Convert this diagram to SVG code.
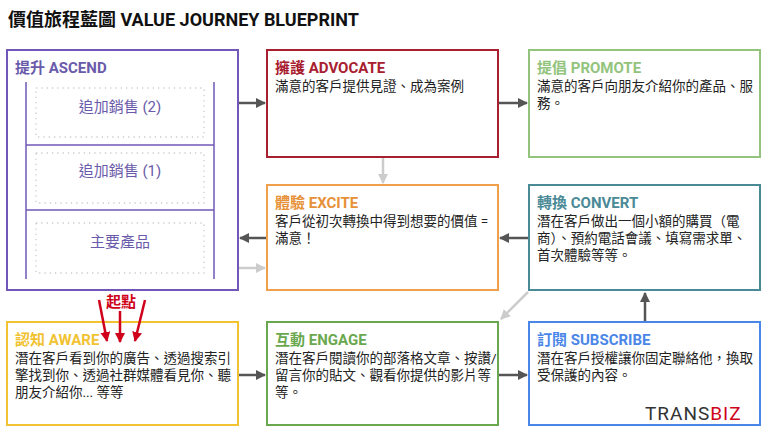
<svg xmlns="http://www.w3.org/2000/svg" width="768" height="433" viewBox="0 0 768 433">
<defs>
<marker id="ah" viewBox="0 0 10 10" refX="9" refY="5" markerWidth="4" markerHeight="4" orient="auto"><path d="M0,0L10,5L0,10z" fill="#555"/></marker>
<marker id="al" viewBox="0 0 10 10" refX="9" refY="5" markerWidth="4" markerHeight="4" orient="auto"><path d="M0,0L10,5L0,10z" fill="#ccc"/></marker>
<marker id="ar" viewBox="0 0 10 10" refX="9" refY="5" markerWidth="4" markerHeight="4" orient="auto"><path d="M0,0L10,5L0,10z" fill="#d0021b"/></marker>
</defs>
<style>
text{font-family:Roboto,"Noto Sans CJK TC",sans-serif}
.box{fill:#fff;stroke-width:2}
.h{font-size:15px;font-weight:bold}
.b{font-size:13.5px;fill:#222}
.c{stroke:#555;stroke-width:2.5;fill:none;marker-end:url(#ah)}
.l{stroke:#ccc;stroke-width:2.5;fill:none;marker-end:url(#al)}
.r{stroke:#d0021b;stroke-width:2.5;fill:none;marker-end:url(#ar)}
.dot{fill:none;stroke:#ccc;stroke-width:1.3;stroke-dasharray:1.3 4}
.sub{font-size:15px;fill:#6a5aaa;text-anchor:middle}
</style>
<rect width="768" height="433" fill="#fff"/>
<text x="8" y="26" font-size="18" font-weight="bold" fill="#111">價值旅程藍圖 VALUE JOURNEY BLUEPRINT</text>
<g id="ascend">
<rect class="box" x="7" y="50" width="231" height="240" stroke="#7158b8"/>
<text class="h" x="15" y="73" fill="#6a5aaa">提升 ASCEND</text>
<path d="M26,82V279M214,82V279M26,145H214M26,210H214" stroke="#7158b8" stroke-width="1.5"/>
<rect class="dot" x="36" y="88" width="168" height="49"/>
<rect class="dot" x="36" y="153" width="168" height="50"/>
<rect class="dot" x="36" y="223" width="168" height="50"/>
<text class="sub" x="120" y="112">追加銷售 (2)</text>
<text class="sub" x="120" y="176">追加銷售 (1)</text>
<text class="sub" x="120" y="247">主要產品</text>
</g>
<g id="advocate">
<rect class="box" x="267" y="50" width="231" height="107" stroke="#a8202f"/>
<text class="h" x="275" y="73" fill="#a8202f">擁護 ADVOCATE</text>
<text class="b" x="275" y="91">滿意的客戶提供見證、成為案例</text>
</g>
<g id="promote">
<rect class="box" x="529" y="50" width="231" height="107" stroke="#93c47d"/>
<text class="h" x="537" y="73" fill="#93c47d">提倡 PROMOTE</text>
<text class="b" x="537" y="91">滿意的客戶向朋友介紹你的產品、服</text>
<text class="b" x="537" y="108">務。</text>
</g>
<g id="excite">
<rect class="box" x="267" y="185" width="231" height="105" stroke="#f0a04b"/>
<text class="h" x="275" y="208" fill="#e69138">體驗 EXCITE</text>
<text class="b" x="275" y="226">客戶從初次轉換中得到想要的價值 =</text>
<text class="b" x="275" y="243">滿意！</text>
</g>
<g id="convert">
<rect class="box" x="529" y="185" width="231" height="105" stroke="#4a8a96"/>
<text class="h" x="537" y="208" fill="#4a8a96">轉換 CONVERT</text>
<text class="b" x="537" y="226">潛在客戶做出一個小額的購買（電</text>
<text class="b" x="537" y="243">商）、預約電話會議、填寫需求單、</text>
<text class="b" x="537" y="260">首次體驗等等。</text>
</g>
<g id="aware">
<rect class="box" x="7" y="322" width="231" height="103" stroke="#f1c232"/>
<text class="h" x="15" y="345" fill="#f1c232">認知 AWARE</text>
<text class="b" x="15" y="363">潛在客戶看到你的廣告、透過搜索引</text>
<text class="b" x="15" y="380">擎找到你、透過社群媒體看見你、聽</text>
<text class="b" x="15" y="397">朋友介紹你... 等等</text>
</g>
<g id="engage">
<rect class="box" x="267" y="322" width="231" height="103" stroke="#6aa84f"/>
<text class="h" x="275" y="345" fill="#6aa84f">互動 ENGAGE</text>
<text class="b" x="275" y="363">潛在客戶閱讀你的部落格文章、按讚/</text>
<text class="b" x="275" y="380">留言你的貼文、觀看你提供的影片等</text>
<text class="b" x="275" y="397">等。</text>
</g>
<g id="subscribe">
<rect class="box" x="529" y="322" width="231" height="103" stroke="#4a86e8"/>
<text class="h" x="537" y="345" fill="#4a86e8">訂閱 SUBSCRIBE</text>
<text class="b" x="537" y="363">潛在客戶授權讓你固定聯絡他，換取</text>
<text class="b" x="537" y="380">受保護的內容。</text>
<text x="645" y="420" font-size="19" fill="#333" letter-spacing="1">TRANS<tspan fill="#d0021b">BIZ</tspan></text>
</g>
<g id="connectors">
<path class="c" d="M239,103H265"/>
<path class="c" d="M499,103H527"/>
<path class="l" d="M383,158V183"/>
<path class="c" d="M528,238H500"/>
<path class="c" d="M266,238H240"/>
<path class="l" d="M239,268H265"/>
<path class="l" d="M528,292L501,319"/>
<path class="c" d="M239,375H265"/>
<path class="c" d="M499,375H527"/>
<path class="c" d="M645,321V293"/>
<path class="r" d="M99,300L107,341"/>
<path class="r" d="M120,311V342"/>
<path class="r" d="M145,300L135,341"/>
</g>
<text x="121" y="307" font-size="15" font-weight="bold" fill="#d0021b" text-anchor="middle">起點</text>
</svg>
